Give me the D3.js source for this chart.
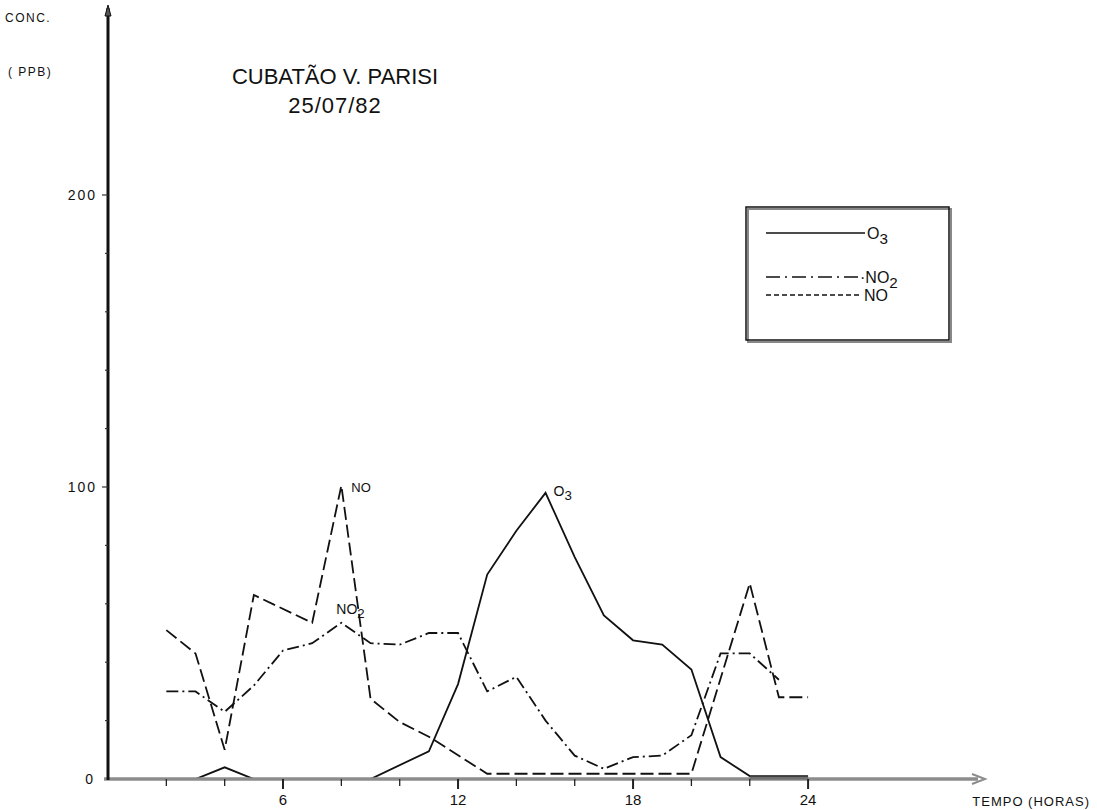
<!DOCTYPE html>
<html>
<head>
<meta charset="utf-8">
<script src="https://cdn.jsdelivr.net/npm/d3@7"></script>
<style>
  body { margin: 0; background: #fff; }
  svg text { font-family: "Liberation Sans", Arial, sans-serif; fill: #111; }
</style>
</head>
<body>
<div class="canvas"></div>
<script>
const o3Hours  = [2, 3, 4, 5, 9, 11, 12, 13, 14, 15, 16, 17, 18, 19, 20, 21, 22, 24];
const o3Values = [0, 0, 4, 0, 0, 9.5, 32.5, 70, 85, 98, 76, 56, 47.5, 46, 37.5, 7.5, 1, 1];

const no2Hours  = [2, 3, 4, 5, 6, 7, 8, 9, 10, 11, 12, 13, 14, 15, 16, 17, 18, 19, 20, 21, 22, 23];
const no2Values = [30, 30, 23, 32, 44, 46.5, 53.5, 46.5, 46, 50, 50, 30, 35, 20, 8, 3.5, 7.5, 8, 15, 43, 43, 34];

const noHours  = [2, 3, 4, 5, 7, 8, 9, 10, 11, 13, 20, 22, 23, 24];
const noValues = [51, 43, 10, 63, 53.5, 100.5, 27.5, 19.5, 14.5, 1.8, 1.8, 67, 28, 28];

const xTickValues = [2, 4, 6, 8, 10, 12, 14, 16, 18, 20, 22, 24];
const xTickLabels = [6, 12, 18, 24];
const yTickValues = [0, 20, 40, 60, 80, 100, 120, 140, 160, 180, 200];
const yTickLabels = [0, 100, 200];

const dims = {width: 1097, height: 810};
const origin = {x: 108, y: 779};

const svg = d3.select(".canvas").append("svg")
    .attr("width", dims.width)
    .attr("height", dims.height);

const x = d3.scaleLinear().domain([0, 24]).range([origin.x, origin.x + 24 * 29.17]);
const y = d3.scaleLinear().domain([0, 200]).range([origin.y, 195]);

// series first, so the grey time axis sits over the zero stretches
const line = d3.line().x(d => x(d[0])).y(d => y(d[1]));

const series = [
    {name: "O3", hours: o3Hours, values: o3Values, dash: null},
    {name: "NO2", hours: no2Hours, values: no2Values, dash: "12,4,2,4"},
    {name: "NO", hours: noHours, values: noValues, dash: "13,5"}
];

svg.append("g").selectAll("path")
    .data(series)
    .join("path")
    .attr("d", s => line(d3.zip(s.hours, s.values)))
    .attr("fill", "none")
    .attr("stroke", "#111")
    .attr("stroke-width", 1.8)
    .attr("stroke-linejoin", "miter")
    .attr("stroke-dasharray", s => s.dash);

// axes: drawn by hand to get the old plotter look
const xAxisG = svg.append("g");
xAxisG.append("line")
    .attr("x1", 104).attr("x2", 978)
    .attr("y1", origin.y).attr("y2", origin.y)
    .attr("stroke", "#8c8c8c").attr("stroke-width", 3.5);
// darker patch where the O3 trace runs along the axis at the end of the day
xAxisG.append("line")
    .attr("x1", x(22)).attr("x2", x(24))
    .attr("y1", origin.y - 1).attr("y2", origin.y - 1)
    .attr("stroke", "#6e6e6e").attr("stroke-width", 3);
xAxisG.append("path")
    .attr("d", `M972,${origin.y - 5} L985,${origin.y} L972,${origin.y + 5}`)
    .attr("fill", "none").attr("stroke", "#8c8c8c").attr("stroke-width", 2);

xAxisG.selectAll(".xt")
    .data(xTickValues)
    .join("line")
    .attr("x1", d => x(d)).attr("x2", d => x(d))
    .attr("y1", origin.y).attr("y2", d => xTickLabels.includes(d) ? origin.y + 10 : origin.y + 7)
    .attr("stroke", "#222").attr("stroke-width", d => xTickLabels.includes(d) ? 2 : 1.3);

xAxisG.selectAll(".xl")
    .data(xTickLabels)
    .join("text")
    .attr("x", d => x(d)).attr("y", 805)
    .attr("text-anchor", "middle")
    .attr("font-size", 15)
    .text(d => d);

svg.append("text")
    .attr("x", 1090).attr("y", 806)
    .attr("text-anchor", "end")
    .attr("font-size", 13)
    .attr("letter-spacing", 1)
    .text("TEMPO (HORAS)");

const yAxisG = svg.append("g");
yAxisG.append("line")
    .attr("x1", origin.x).attr("x2", origin.x)
    .attr("y1", origin.y + 1).attr("y2", 8)
    .attr("stroke", "#111").attr("stroke-width", 3);
yAxisG.append("path")
    .attr("d", `M${origin.x - 3},16 L${origin.x},5 L${origin.x + 3},16 Z`)
    .attr("fill", "#555").attr("stroke", "#111").attr("stroke-width", 1);

yAxisG.selectAll(".yt")
    .data(yTickValues.filter(d => d > 0))
    .join("line")
    .attr("x1", d => yTickLabels.includes(d) ? origin.x - 6 : origin.x - 3)
    .attr("x2", origin.x)
    .attr("y1", d => y(d)).attr("y2", d => y(d))
    .attr("stroke", "#333").attr("stroke-width", 1.2);

yAxisG.selectAll(".yl")
    .data(yTickLabels)
    .join("text")
    .attr("x", d => d === 0 ? 95 : 97)
    .attr("y", d => y(d) + 5)
    .attr("text-anchor", "end")
    .attr("font-size", 14)
    .attr("letter-spacing", 2)
    .text(d => d);

svg.append("text").attr("x", 5).attr("y", 22)
    .attr("font-size", 12).attr("letter-spacing", 1.5).text("CONC.");
svg.append("text").attr("x", 8).attr("y", 76)
    .attr("font-size", 12).attr("letter-spacing", 1.5).text("( PPB)");

// title
svg.append("text")
    .attr("x", 335).attr("y", 84)
    .attr("text-anchor", "middle")
    .attr("font-size", 22)
    .text("CUBATÃO V. PARISI");
svg.append("text")
    .attr("x", 335).attr("y", 113)
    .attr("text-anchor", "middle")
    .attr("font-size", 22)
    .attr("letter-spacing", 1)
    .text("25/07/82");

// in-plot labels next to the peaks
const addChem = (g, xPos, yPos, main, sub, size) => {
    const t = g.append("text").attr("x", xPos).attr("y", yPos).attr("font-size", size);
    t.append("tspan").text(main);
    if (sub) t.append("tspan").attr("dy", size * 0.3).attr("font-size", size * 0.95).text(sub);
    return t;
};

const noPeak = noValues.indexOf(d3.max(noValues));
addChem(svg, x(noHours[noPeak]) + 10, y(noValues[noPeak]) + 6, "NO", null, 13);
const o3Peak = o3Values.indexOf(d3.max(o3Values));
addChem(svg, x(o3Hours[o3Peak]) + 8, y(o3Values[o3Peak]) + 3, "O", "3", 14);
const no2Peak = no2Values.indexOf(d3.max(no2Values));
addChem(svg, x(no2Hours[no2Peak]) - 5, y(no2Values[no2Peak]) - 9, "NO", "2", 14);

// legend
const legend = svg.append("g");
legend.append("rect")
    .attr("x", 748).attr("y", 209).attr("width", 203).attr("height", 133)
    .attr("fill", "none").attr("stroke", "#888").attr("stroke-width", 2);
legend.append("rect")
    .attr("x", 746).attr("y", 207).attr("width", 203).attr("height", 133)
    .attr("fill", "none").attr("stroke", "#111").attr("stroke-width", 1.5);

const legendRows = [
    {name: "O", sub: "3", y: 233, x2: 865, dash: null},
    {name: "\u00B7NO", sub: "2", y: 277, x2: 858, dash: "14,5,2,5"},
    {name: "NO", sub: null, y: 295, x2: 862, dash: "5,3"}
];
legendRows.forEach(r => {
    legend.append("line")
        .attr("x1", 766).attr("x2", r.x2)
        .attr("y1", r.y).attr("y2", r.y)
        .attr("stroke", "#111").attr("stroke-width", 1.5)
        .attr("stroke-dasharray", r.dash);
    addChem(legend, r.x2 + 2, r.y + 6, r.name, r.sub, 16);
});
</script>
</body>
</html>
